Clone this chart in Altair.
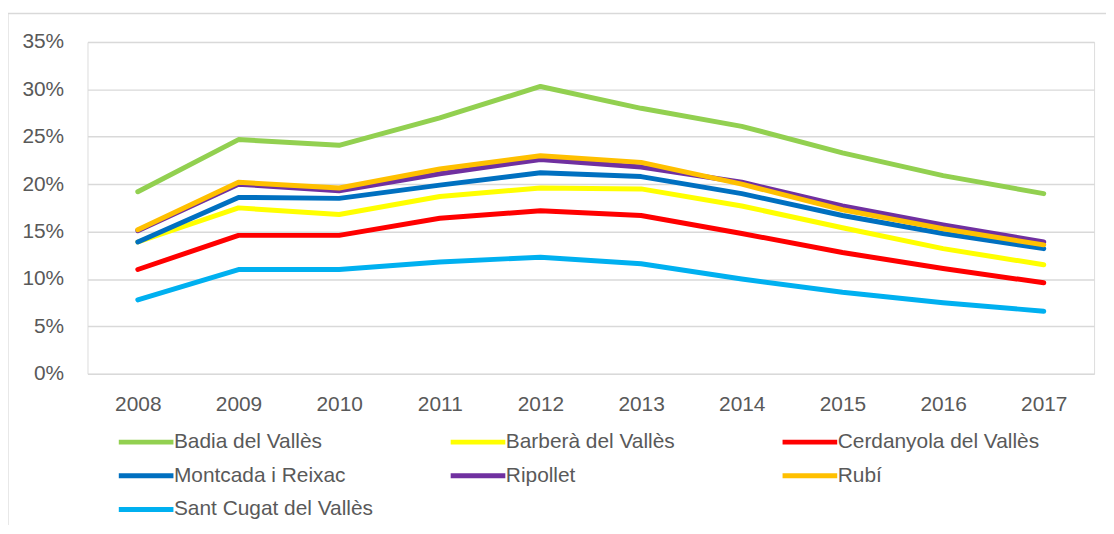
import altair as alt
import pandas as pd

years = ["2008", "2009", "2010", "2011", "2012", "2013", "2014", "2015", "2016", "2017"]
series = ["Badia del Vallès", "Barberà del Vallès", "Cerdanyola del Vallès",
          "Montcada i Reixac", "Ripollet", "Rubí", "Sant Cugat del Vallès"]
colors = ["#92D050", "#FFFF00", "#FF0000", "#0070C0", "#7030A0", "#FFC000", "#00B0F0"]

badia = [19.2, 24.7, 24.1, 27.0, 30.3, 28.0, 26.1, 23.3, 20.9, 19.0]
barbera = [13.9, 17.5, 16.8, 18.7, 19.6, 19.5, 17.7, 15.4, 13.2, 11.5]
cerdanyola = [11.0, 14.6, 14.6, 16.4, 17.2, 16.7, 14.8, 12.8, 11.1, 9.6]
montcada = [13.9, 18.6, 18.5, 19.9, 21.2, 20.8, 19.0, 16.7, 14.8, 13.2]
ripollet = [15.1, 20.0, 19.3, 21.1, 22.6, 21.8, 20.2, 17.7, 15.7, 13.9]
rubi = [15.2, 20.2, 19.6, 21.6, 23.0, 22.3, 20.0, 17.3, 15.3, 13.6]
santcugat = [7.8, 11.0, 11.0, 11.8, 12.3, 11.6, 10.0, 8.6, 7.5, 6.6]

y_ticks = [0, 0.05, 0.10, 0.15, 0.20, 0.25, 0.30, 0.35]

rows = []
for name, vals in zip(series, [badia, barbera, cerdanyola, montcada, ripollet, rubi, santcugat]):
    for yr, v in zip(years, vals):
        rows.append({"Municipi": name, "Any": yr, "Taxa": v / 100})
df = pd.DataFrame(rows)

FONT = "Liberation Sans"
TXT = "#595959"
W, H = 1013, 334

lines = alt.Chart(df).mark_line(strokeWidth=5, strokeCap="round", strokeJoin="round").encode(
    x=alt.X("Any:O", title=None, sort=years,
            axis=alt.Axis(labelAngle=0, labelPadding=20, domain=False, ticks=False, grid=False,
                          labelFont=FONT, labelFontSize=21, labelColor=TXT)),
    y=alt.Y("Taxa:Q", title=None, scale=alt.Scale(domain=[0, 0.35], nice=False, zero=True),
            axis=alt.Axis(format=".0%", values=y_ticks, domain=False, ticks=False,
                          labelPadding=24, gridColor="#D9D9D9", gridWidth=1.5,
                          labelFont=FONT, labelFontSize=21, labelColor=TXT)),
    color=alt.Color("Municipi:N", sort=series,
                    scale=alt.Scale(domain=series, range=colors),
                    legend=alt.Legend(title=None, orient="none", legendX=29, legendY=389,
                                      direction="horizontal", columns=3, gridAlign="all",
                                      symbolType="M-1,0H4", symbolSize=484, symbolStrokeWidth=5,
                                      labelFont=FONT, labelFontSize=21, labelColor=TXT,
                                      labelOffset=31, columnPadding=65, rowPadding=10,
                                      padding=0, labelLimit=400)),
    order=alt.Order("Municipi:N", sort="ascending"),
)

border_left = alt.Chart(alt.Data(values=[{"k": 1}])).mark_rule(color="#D0D0D0", strokeWidth=2).encode(
    x=alt.value(-80.5), y=alt.value(-28.5), y2=alt.value(490))
border_top = alt.Chart(alt.Data(values=[{"k": 1}])).mark_rule(color="#D9D9D9", strokeWidth=1.5).encode(
    x=alt.value(-81), x2=alt.value(1030), y=alt.value(-28.5))

chart = alt.layer(border_left, border_top, lines).properties(
    width=W, height=H,
    autosize=alt.AutoSizeParams(type="none"),
    padding={"left": 80, "top": 32.5, "right": 12, "bottom": 150},
).configure_view(stroke=None).configure(background="white")

chart.save("out.html", embed_options={"renderer": "svg", "actions": False})
